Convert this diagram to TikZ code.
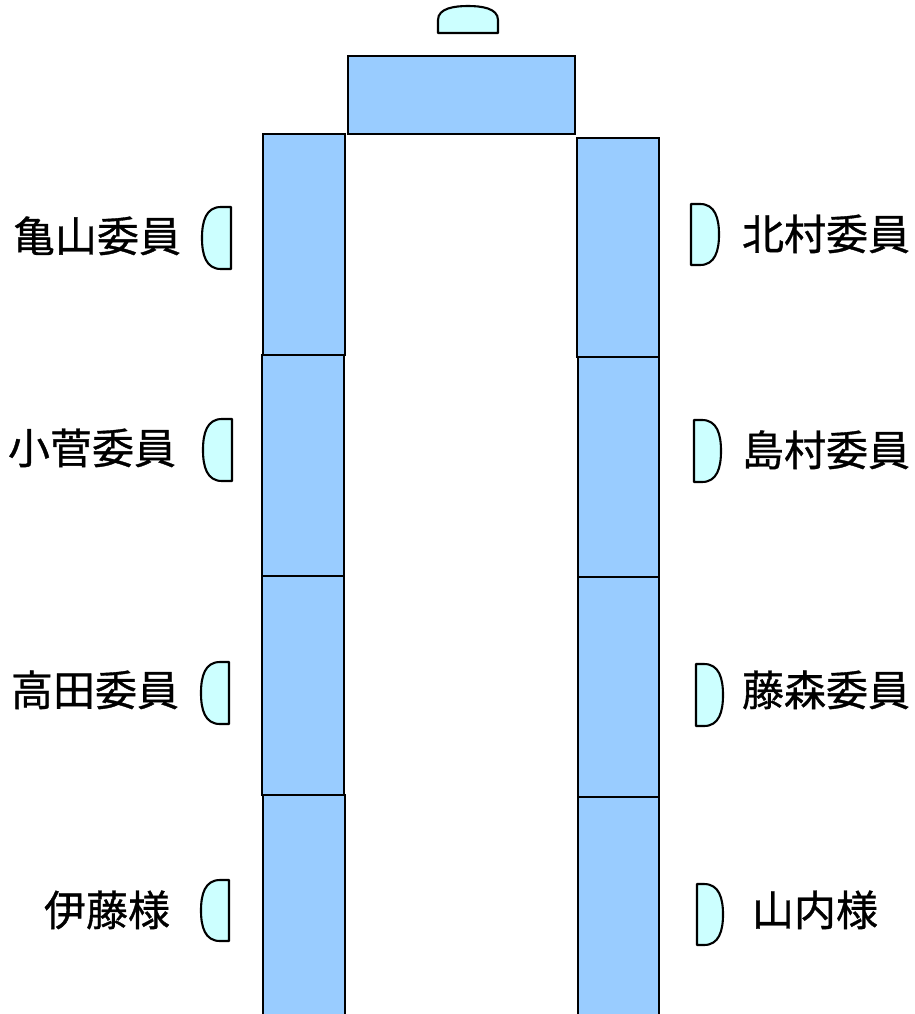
\documentclass[tikz,border=0pt]{standalone}
\usepackage{fontspec}
\newfontfamily\jp[FakeBold=0.8]{Noto Sans CJK JP}
\definecolor{tablefill}{HTML}{99CCFF}
\definecolor{chairfill}{HTML}{CCFFFF}
\begin{document}
\begin{tikzpicture}[x=1pt,y=-1pt,
  tablebox/.style={draw=black,line width=2.1pt,fill=tablefill},
  chairbox/.style={draw=black,line width=2.1pt,fill=chairfill,line join=round},
  namelabel/.style={font=\jp\fontsize{42}{48}\selectfont,text height=0.88em,text depth=0.12em,inner sep=0pt,anchor=center}]
\useasboundingbox (0,0) rectangle (915,1014);
\clip (0,0) rectangle (915,1014);
% head table
\draw[tablebox] (348,56) rectangle (575,134);
% left tables
\draw[tablebox] (263,134) rectangle (345,355);
\draw[tablebox] (262,355) rectangle (344,576);
\draw[tablebox] (262,576) rectangle (344,795);
\draw[tablebox] (263,795) rectangle (345,1030);
% right tables
\draw[tablebox] (577,138) rectangle (659,357);
\draw[tablebox] (578,357) rectangle (659,577);
\draw[tablebox] (578,577) rectangle (659,797);
\draw[tablebox] (578,797) rectangle (659,1030);
% head chair
\draw[chairbox] (438,33) -- (438,20) .. controls (438,8) and (455,6) .. (468,6)
  .. controls (481,6) and (498,8) .. (498,20) -- (498,33) -- cycle;
% left chairs (xl, xr, yt, yb)
\foreach \xl/\xr/\yt/\yb in {202/231/207/269, 203/232/419/481, 201/229/662/724, 201/229/880/941}{
  \draw[chairbox] (\xr,\yt) -- ({\xl+19},\yt) .. controls ({\xl+4},\yt) and (\xl,{\yt+14}) .. (\xl,{(\yt+\yb)/2})
    .. controls (\xl,{\yb-14}) and ({\xl+4},\yb) .. ({\xl+19},\yb) -- (\xr,\yb) -- cycle;
}
% right chairs
\foreach \xl/\xr/\yt/\yb in {691/719/204/265, 694/721/420/482, 696/723/664/726, 697/723/884/945}{
  \draw[chairbox] (\xl,\yt) -- ({\xr-19},\yt) .. controls ({\xr-4},\yt) and (\xr,{\yt+14}) .. (\xr,{(\yt+\yb)/2})
    .. controls (\xr,{\yb-14}) and ({\xr-4},\yb) .. ({\xr-19},\yb) -- (\xl,\yb) -- cycle;
}
% labels
\node[namelabel] (kameyama) at (97,248) {亀山委員};
\node[namelabel] (kosuge) at (92,460) {小菅委員};
\node[namelabel] (takada) at (95,702) {高田委員};
\node[namelabel] (ito) at (107,922) {伊藤様};
\node[namelabel] (kitamura) at (826,246) {北村委員};
\node[namelabel] (shimamura) at (826,462) {島村委員};
\node[namelabel] (fujimori) at (826,702) {藤森委員};
\node[namelabel] (yamauchi) at (815,922) {山内様};
\end{tikzpicture}
\end{document}
